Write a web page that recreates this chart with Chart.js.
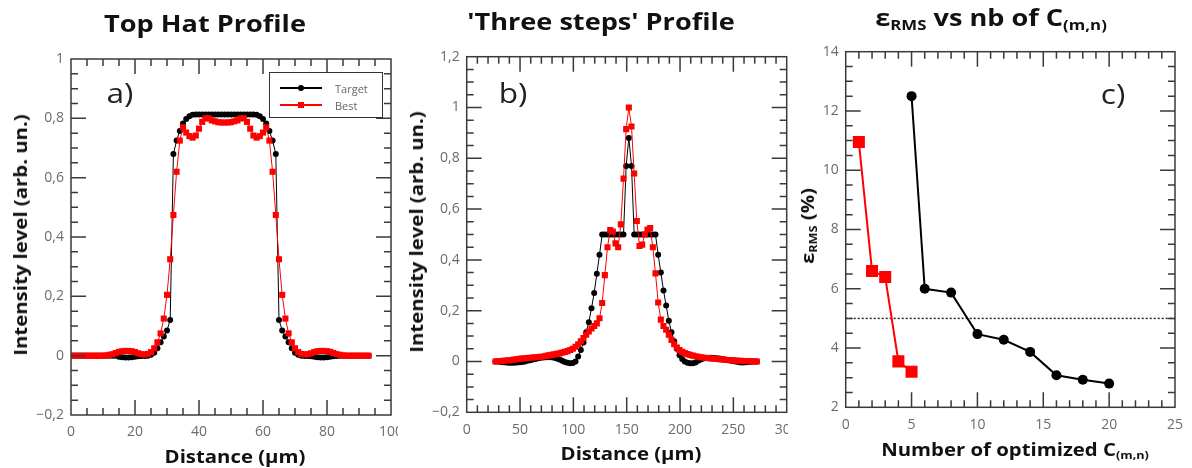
<!DOCTYPE html>
<html>
<head>
<meta charset="utf-8">
<script src="https://cdn.jsdelivr.net/npm/chart.js@4.4.1/dist/chart.umd.min.js"></script>
<style>
  html, body { margin: 0; padding: 0; background: #fff; }
  #page { position: relative; width: 1192px; height: 468px; overflow: hidden; font-family: "Open Sans", sans-serif; color: #111; }
  .clip { position: absolute; top: 0; height: 468px; overflow: hidden; }
  .clip canvas { position: absolute; top: 0; left: 0; }
  .lbl { position: absolute; white-space: nowrap; line-height: 1; font-weight: 700; transform: translate(-50%, -50%) scaleX(1.13); }
  .rot { transform: translate(-50%, -50%) rotate(-90deg) scaleX(1.13); }
  .title { font-size: 24px; }
  .axis { font-size: 18px; }
  .tag { font-weight: 400; font-size: 28px; color: #222; }
  sub { font-size: 62%; vertical-align: baseline; position: relative; top: 0.3em; }
  #legend { position: absolute; left: 269px; top: 72px; width: 114px; height: 46px; box-sizing: border-box; border: 1.5px solid #333; background: #fff; }
  #legend .ln { position: absolute; left: 10px; width: 42px; height: 1.5px; }
  #legend .mk { position: absolute; left: 28px; width: 6px; height: 6px; }
  #legend .tx { position: absolute; left: 65px; font-size: 11px; color: #666; line-height: 1; transform: translateY(-50%); }
</style>
</head>
<body>
<div id="page">
  <div class="clip" style="left:0px;width:398px"><canvas id="chartA" width="430" height="468"></canvas></div>
  <div class="clip" style="left:400px;width:388px"><canvas id="chartB" width="420" height="468"></canvas></div>
  <div class="clip" style="left:790px;width:402px"><canvas id="chartC" width="402" height="468"></canvas></div>

  <div class="lbl title" style="left:205px;top:23px">Top Hat Profile</div>
  <div class="lbl title" style="left:601px;top:21px">'Three steps' Profile</div>
  <div class="lbl title" style="left:991px;top:17px">ε<sub>RMS</sub> vs nb of C<sub>(m,n)</sub></div>

  <div class="lbl axis" style="left:235px;top:456px">Distance (µm)</div>
  <div class="lbl axis" style="left:631px;top:453px">Distance (µm)</div>
  <div class="lbl axis" style="left:1015px;top:449px">Number of optimized C<sub>(m,n)</sub></div>

  <div class="lbl axis rot" style="left:20px;top:235px">Intensity level (arb. un.)</div>
  <div class="lbl axis rot" style="left:416px;top:232px">Intensity level (arb. un.)</div>
  <div class="lbl axis rot" style="left:807px;top:226px">ε<sub>RMS</sub> (%)</div>

  <div class="lbl tag" style="left:120px;top:92px">a)</div>
  <div class="lbl tag" style="left:513px;top:92px">b)</div>
  <div class="lbl tag" style="left:1113px;top:93px">c)</div>

  <div id="legend">
    <div class="ln" style="top:14px;background:#000"></div>
    <div class="mk" style="top:12px;background:#000;border-radius:50%"></div>
    <div class="tx" style="top:15px">Target</div>
    <div class="ln" style="top:31px;background:#f00"></div>
    <div class="mk" style="top:29px;background:#f00"></div>
    <div class="tx" style="top:32px">Best</div>
  </div>
</div>

<script>
// --- a) top hat profile (distance in µm, intensity in arb. un.)
const distA = [0,1,2,3,4,5,6,7,8,9,10,11,12,13,14,15,16,17,18,19,20,21,22,23,24,25,26,27,28,29,
  30,31,32,33,34,35,36,37,38,39,40,41,42,43,44,45,46,47,48,49,50,51,52,53,54,55,56,57,58,59,
  60,61,62,63,64,65,66,67,68,69,70,71,72,73,74,75,76,77,78,79,80,81,82,83,84,85,86,87,88,89,
  90,91,92,93];
const targetA = [0,0,0,0,0,0,0,0,0,0,0,0,0,0,0,
  -0.004,-0.005,-0.006,-0.006,-0.005,-0.004,-0.002,-0.001,-0.001,0,
  0.003,0.01,0.025,0.045,0.065,0.085,0.12,0.68,0.725,0.757,0.783,0.798,0.807,0.812,
  0.813,0.813,0.813,0.813,0.813,0.813,0.813,0.813,0.813,0.813,0.813,0.813,0.813,0.813,0.813,0.813,0.813,0.813,0.813,
  0.812,0.807,0.798,0.783,0.757,0.725,0.68,0.12,0.085,0.065,0.045,0.025,0.01,0.003,
  0,-0.001,-0.001,-0.002,-0.004,-0.005,-0.006,-0.006,-0.005,-0.004,-0.002,-0.001,
  0,0,0,0,0,0,0,0,0,0];
const bestA = [0,0,0,0,0,0,0,0,0,0,0,
  0.001,0.003,0.005,0.009,0.013,0.015,0.016,0.016,0.015,0.012,0.008,0.005,0.004,0.006,
  0.012,0.025,0.045,0.075,0.125,0.205,0.325,0.474,0.62,0.725,
  0.77,0.752,0.74,0.735,0.742,0.765,0.788,0.8,0.8,0.793,0.79,0.787,0.786,0.786,
  0.786,0.787,0.79,0.793,0.8,0.8,0.788,0.765,0.742,0.735,0.74,0.752,0.77,
  0.725,0.62,0.474,0.325,0.205,0.125,0.075,0.045,0.025,0.012,
  0.006,0.004,0.005,0.008,0.012,0.015,0.016,0.016,0.015,0.013,0.009,0.005,0.003,0.001,
  0,0,0,0,0,0,0,0];

// --- b) 'three steps' profile
const distB = [27,29.5,32,34.5,37,39.5,42,44.5,47,49.5,
  52,54.5,57,59.5,62,64.5,67,69.5,72,74.5,
  77,79.5,82,84.5,87,89.5,92,94.5,97,99.5,
  102,104.5,107,109.5,112,114.5,117,119.5,122,124.5,
  127,129.5,132,134.5,137,139.5,142,144.5,147,149.5,
  152,154.5,157,159.5,162,164.5,167,169.5,172,174.5,
  177,179.5,182,184.5,187,189.5,192,194.5,197,199.5,
  202,204.5,207,209.5,212,214.5,217,219.5,222,224.5,
  227,229.5,232,234.5,237,239.5,242,244.5,247,249.5,
  252,254.5,257,259.5,262,264.5,267,269.5,272];
const targetB = [0,0,-0.002,-0.003,-0.004,-0.005,-0.005,-0.005,-0.004,-0.003,
  -0.002,0,0.003,0.005,0.008,0.01,0.013,0.015,0.016,0.017,
  0.017,0.017,0.015,0.012,0.008,0.003,-0.002,-0.005,-0.007,-0.006,
  0,0.02,0.045,0.075,0.115,0.155,0.21,0.27,0.345,0.42,
  0.5,0.5,0.5,0.5,0.5,0.5,0.5,0.5,0.5,0.77,
  0.88,0.77,0.5,0.5,0.5,0.5,0.5,0.5,0.5,0.5,
  0.5,0.42,0.35,0.28,0.22,0.16,0.115,0.08,0.05,0.025,
  0.01,0,-0.005,-0.007,-0.007,-0.004,0.003,0.008,0.012,0.014,
  0.015,0.015,0.014,0.013,0.012,0.01,0.008,0.006,0.004,0.002,
  0,-0.002,-0.004,-0.004,-0.003,-0.002,-0.001,0,0];
const bestB = [0,0.001,0.002,0.003,0.004,0.005,0.006,0.008,0.009,0.011,
  0.012,0.013,0.014,0.015,0.016,0.017,0.018,0.019,0.02,0.022,
  0.024,0.026,0.028,0.03,0.032,0.035,0.038,0.041,0.045,0.05,
  0.058,0.068,0.08,0.092,0.105,0.118,0.13,0.14,0.15,0.17,
  0.23,0.34,0.45,0.518,0.512,0.465,0.45,0.54,0.72,0.915,
  1.0,0.925,0.74,0.553,0.455,0.46,0.5,0.52,0.525,0.45,
  0.347,0.232,0.165,0.14,0.125,0.105,0.085,0.068,0.055,0.045,
  0.038,0.033,0.029,0.026,0.023,0.021,0.019,0.017,0.016,0.014,
  0.013,0.012,0.011,0.01,0.009,0.008,0.007,0.006,0.005,0.005,
  0.004,0.003,0.003,0.002,0.002,0.001,0.001,0,0];

// --- c) eps RMS (%) vs number of optimized coefficients
const coeffsRed = [1, 2, 3, 4, 5];
const errRed = [10.95, 6.6, 6.4, 3.55, 3.2];
const coeffsBlack = [5, 6, 8, 10, 12, 14, 16, 18, 20];
const errBlack = [12.5, 6.0, 5.87, 4.47, 4.28, 3.87, 3.08, 2.93, 2.8];
const errLimit = 5;

const pts = (xs, ys) => xs.map((x, i) => ({ x, y: ys[i] }));

// frame + inward major/minor ticks on the four sides
const frameTicks = {
  id: 'frameTicks',
  afterDatasetsDraw(chart, args, o) {
    const { ctx, chartArea: a, scales: { x, y } } = chart;
    ctx.save();
    ctx.strokeStyle = '#3a3a3a';
    ctx.lineWidth = 1.5;
    ctx.beginPath();
    const marks = (sc, step, len) => {
      const n = Math.round((sc.max - sc.min) / step);
      for (let i = 1; i < n; i++) {
        const p = sc.getPixelForValue(sc.min + i * step);
        if (sc.axis === 'x') {
          ctx.moveTo(p, a.bottom); ctx.lineTo(p, a.bottom - len);
          ctx.moveTo(p, a.top); ctx.lineTo(p, a.top + len);
        } else {
          ctx.moveTo(a.left, p); ctx.lineTo(a.left + len, p);
          ctx.moveTo(a.right, p); ctx.lineTo(a.right - len, p);
        }
      }
    };
    marks(x, o.xMinor, 7);
    marks(y, o.yMinor, 7);
    marks(x, x.options.ticks.stepSize, 15);
    marks(y, y.options.ticks.stepSize, 15);
    ctx.stroke();
    ctx.strokeRect(a.left, a.top, a.width, a.height);
    ctx.restore();
  }
};

// dotted horizontal reference line
const refLine = {
  id: 'refLine',
  beforeDatasetsDraw(chart, args, o) {
    if (o.value == null) return;
    const { ctx, chartArea: a, scales: { y } } = chart;
    const p = y.getPixelForValue(o.value);
    ctx.save();
    ctx.setLineDash([2, 2]);
    ctx.lineWidth = 1.5;
    ctx.strokeStyle = '#222';
    ctx.beginPath();
    ctx.moveTo(a.left, p); ctx.lineTo(a.right, p);
    ctx.stroke();
    ctx.restore();
  }
};

const tickFmt = v => {
  const r = Math.round(v * 100) / 100;
  if (Math.abs(r) < 1e-9) return '0';
  const s = String(Math.abs(r)).replace('.', ',');
  return r < 0 ? '\u2212' + s : s;
};

function axis(r, dir) {
  return {
    type: 'linear', min: r.min, max: r.max,
    grid: { display: false, drawTicks: false },
    border: { display: false },
    ticks: { stepSize: r.step, padding: dir === 'x' ? 9 : 7, color: '#6b6b6b', autoSkip: false, maxRotation: 0,
      font: { family: 'Open Sans', size: 14 }, callback: tickFmt },
    afterFit(s) {
      if (dir === 'x') s.height = 30;
      else s.width = 40;
    }
  };
}

function panel(id, cfg) {
  return new Chart(document.getElementById(id), {
    type: 'line',
    data: { datasets: cfg.datasets },
    options: {
      responsive: false, animation: false, events: [],
      layout: { padding: cfg.padding },
      plugins: { legend: { display: false }, tooltip: { enabled: false },
        frameTicks: cfg.minor, refLine: { value: cfg.refValue } },
      scales: { x: axis(cfg.x, 'x'), y: axis(cfg.y, 'y') }
    },
    plugins: [frameTicks, refLine]
  });
}

const blackProfile = data => ({ label: 'Target', data, borderColor: '#000', borderWidth: 1, pointStyle: 'circle',
  pointRadius: 3, pointBackgroundColor: '#000', pointBorderWidth: 0, order: 1 });
const redProfile = data => ({ label: 'Best', data, borderColor: '#ff0000', borderWidth: 1, pointStyle: 'rect',
  pointRadius: 4.3, pointBackgroundColor: '#ff0000', pointBorderWidth: 0, order: 0 });

panel('chartA', {
  datasets: [blackProfile(pts(distA, targetA)), redProfile(pts(distA, bestA))],
  padding: { left: 31, top: 59, right: 39, bottom: 23 },
  x: { min: 0, max: 100, step: 20 }, y: { min: -0.2, max: 1, step: 0.2 },
  minor: { xMinor: 5, yMinor: 0.05 }
});

panel('chartB', {
  datasets: [blackProfile(pts(distB, targetB)), redProfile(pts(distB, bestB))],
  padding: { left: 26.7, top: 56.7, right: 33.3, bottom: 25.7 },
  x: { min: 0, max: 300, step: 50 }, y: { min: -0.2, max: 1.2, step: 0.2 },
  minor: { xMinor: 10, yMinor: 0.05 }
});

panel('chartC', {
  datasets: [
    { data: pts(coeffsBlack, errBlack), borderColor: '#000', borderWidth: 2, pointStyle: 'circle',
      pointRadius: 5, pointBackgroundColor: '#000', pointBorderWidth: 0, order: 1 },
    { data: pts(coeffsRed, errRed), borderColor: '#ff0000', borderWidth: 2, pointStyle: 'rect',
      pointRadius: 8.5, pointBackgroundColor: '#ff0000', pointBorderWidth: 0, order: 0 }
  ],
  padding: { left: 15.7, top: 51.7, right: 11.3, bottom: 30.7 },
  x: { min: 0, max: 25, step: 5 }, y: { min: 2, max: 14, step: 2 },
  minor: { xMinor: 1, yMinor: 0.5 },
  refValue: errLimit
});
</script>
</body>
</html>
